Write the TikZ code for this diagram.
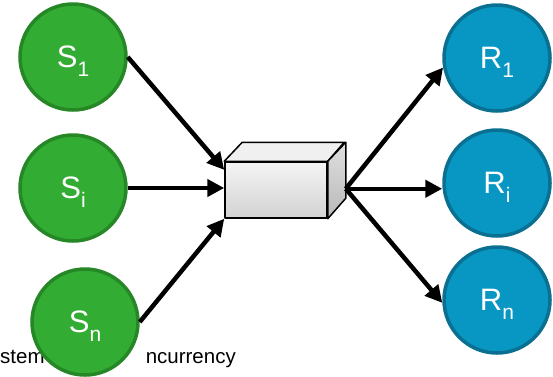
\documentclass[tikz,border=0pt]{standalone}
\usepackage{fontspec}
\setmainfont{Liberation Sans}
\usetikzlibrary{calc,arrows.meta}
\definecolor{sgreen}{RGB}{51,172,51}
\definecolor{sgreenline}{RGB}{38,135,38}
\definecolor{rblue}{RGB}{8,150,195}
\definecolor{rblueline}{RGB}{10,112,145}
\newcommand{\circlabel}[2]{\fontsize{31}{34}\selectfont #1\raisebox{-9pt}[0pt][0pt]{\fontsize{21}{22}\selectfont #2}}

\begin{document}
\begin{tikzpicture}[x=1pt,y=-1pt,
	sender/.style={circle,draw=sgreenline,fill=sgreen,line width=3.5pt,
		minimum size=106pt,inner sep=0pt,text=white},
	receiver/.style={circle,draw=rblueline,fill=rblue,line width=3.5pt,
		minimum size=106pt,inner sep=0pt,text=white},
	flow/.style={line width=4.5pt,-{Triangle[length=17pt,width=17pt]}},
	face/.style={draw,line width=1.5pt,line join=round},
	caption/.style={anchor=base,inner sep=0pt,font=\fontsize{20.5}{24}\selectfont}
	]
				\useasboundingbox (0,0) rectangle (553,376);
				
				\node[caption,anchor=base west] (capL) at (0,363) {stem};
				\node[caption,anchor=base east] (capR) at (236,363) {ncurrency};
				
				\node[sender] (S1) at (73,57) {\circlabel{S}{1}};
				\node[sender] (Si) at (73,188) {\circlabel{S}{i}};
				\node[sender] (Sn) at (85,322) {\circlabel{S}{n}};
				
				\node[receiver] (R1) at (497,58) {\circlabel{R}{1}};
				\node[receiver] (Ri) at (497,183) {\circlabel{R}{i}};
				\node[receiver] (Rn) at (497,300) {\circlabel{R}{n}};
				
				\node[face,minimum width=102pt,minimum height=56pt,inner sep=0pt,
				top color=gray!8,bottom color=gray!35] (Q) at (276,190) {};
				
				\draw[face,fill=gray!12]
				(Q.north west) -- ++(18,-19) -- ++(102,0) -- (Q.north east) -- cycle;
				
				\draw[face,top color=gray!25,bottom color=gray!55]
				(Q.north east) -- ++(18,-19) -- ++(0,56) -- (Q.south east) -- cycle;
				
				\coordinate (in1) at ($(Q.north west)!0.15!(Q.south west)$);
				\coordinate (out) at ($(Q.south east)+(18,-30)$);
				
				\draw[flow] (S1.east) -- (in1);
				\draw[flow] (Si.east) -- (Si.east -| Q.west);
				\draw[flow] (Sn.east) -- (Q.south west);
				
				\draw[flow] (out) -- (R1.190);
				\draw[flow] (out) -- (out -| Ri.west);
				\draw[flow] (out) -- (Rn.183);
\end{tikzpicture}
\end{document}
